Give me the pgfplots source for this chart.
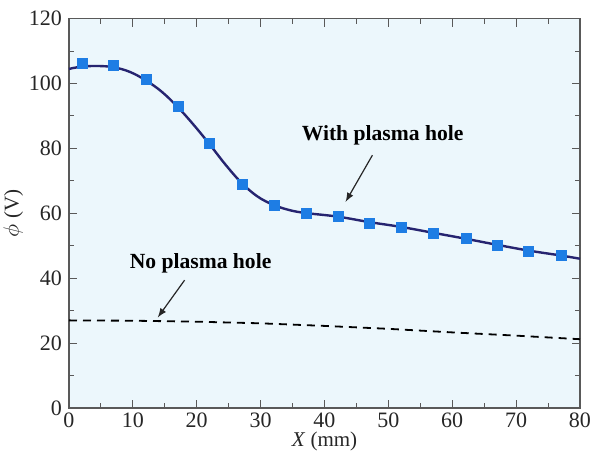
\documentclass[border=0pt]{standalone}
\usepackage{fontspec}
\setmainfont{Liberation Serif}
\usepackage{pgfplots}
\pgfplotsset{compat=1.18}
\definecolor{bgc}{RGB}{236,247,252}
\definecolor{mk}{RGB}{30,125,228}
\definecolor{ln}{RGB}{38,36,112}
\begin{document}
\begin{tikzpicture}
\path[use as bounding box] (-34.5pt,-24.5pt) rectangle (260.5pt,204pt);
\begin{axis}[
  scale only axis, width=255.5pt, height=194.7pt,
  xmin=0, xmax=80, ymin=0, ymax=120,
  xtick={0,10,...,80}, ytick={0,20,...,120},
  minor xtick={5,15,...,75}, minor ytick={10,30,...,110},
  tick align=inside, major tick length=4pt, minor tick length=2.5pt,
  tick style={gray!70!black, line width=0.5pt},
  axis line style={gray!70!black, line width=0.6pt},
  axis background/.style={fill=bgc},
  /pgf/number format/assume math mode=true,
  ticklabel style={font=\fontsize{11}{12}\selectfont, text=black!85},
  xticklabel style={yshift=1pt},
  label style={font=\fontsize{10.5}{12}\selectfont, text=black!85},
  xlabel={\textit{X} (mm)}, ylabel={$\phi$ (V)},
  xlabel style={yshift=5pt},
  ylabel style={yshift=-4pt},
  clip=false,
]
\addplot[ln, line width=1.2pt, smooth, tension=0.6] coordinates {
 (0,104.5) (2,105.2) (4.5,105.4) (7,105.0) (9.5,103.6) (12,101.0) (14.5,97.5)
 (17,92.8) (19.5,87.3) (22,81.3) (24.5,75.0) (27,69.4) (29.5,65.2) (32,62.6)
 (34.5,61.0) (37,60.1) (42,59.0) (47,57.3) (52,55.8) (57,54.0)
 (62,52.2) (67,50.3) (72,48.5) (77,47.0) (80,46.0)};
\addplot[only marks, mark=square*, mark size=2.5pt, mk, mark options={draw=mk, fill=mk}] coordinates {
 (2.1,106.1) (7.0,105.6) (12.1,101.3) (17.2,92.8) (22.0,81.5) (27.2,68.9)
 (32.2,62.5) (37.2,60.0) (42.2,59.2) (47.0,57.0) (52.0,55.8) (57.1,53.7)
 (62.2,52.2) (67.0,50.1) (72.0,48.4) (77.1,47.1)};
\addplot[black, line width=0.9pt, dash pattern=on 4pt off 3pt] coordinates {
 (0,27.0) (10,26.9) (20,26.6) (30,26.1) (40,25.3) (50,24.4) (60,23.3) (70,22.3) (80,21.2)};
\node[font=\bfseries\fontsize{10.8}{12}\selectfont] at (axis cs:49.1,84.0) {With plasma hole};
\draw[-latex, black!85, line width=0.6pt] (axis cs:47.5,77.9) -- (axis cs:43.3,63.5);
\node[font=\bfseries\fontsize{10.8}{12}\selectfont] at (axis cs:20.6,44.5) {No plasma hole};
\draw[-latex, black!85, line width=0.6pt] (axis cs:18.1,39.4) -- (axis cs:13.9,27.9);
\end{axis}
\end{tikzpicture}
\end{document}
